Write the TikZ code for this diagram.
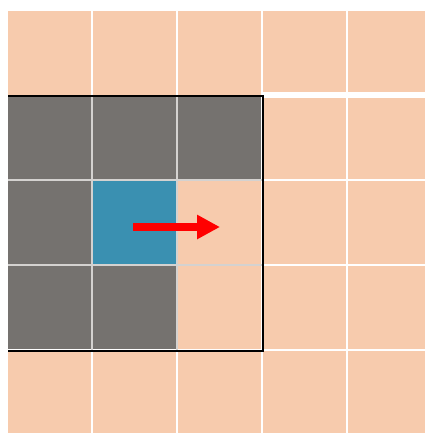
\documentclass[tikz,border=0pt]{standalone}
\usepackage{tikz}
\usetikzlibrary{arrows.meta}
\definecolor{peach}{HTML}{F7CBAD}
\definecolor{slate}{HTML}{75726F}
\definecolor{cellblue}{HTML}{3A90B1}
\definecolor{seam}{HTML}{D4D2D0}

\begin{document}
\begin{tikzpicture}[x=0.02cm, y=-0.02cm,
  cell/.style={minimum size=1.7cm, inner sep=0pt, outer sep=0pt, anchor=north west, fill=peach},
  gapline/.style={white, line width=1.2pt},
  seamline/.style={seam, line width=0.6pt}]
  \useasboundingbox (0,0) rectangle (425,433);
  \clip (0,0) rectangle (425,433);

  %% Cells: 5 x 5, pitch 85
  \foreach \r in {0,...,4} {
    \foreach \c in {0,...,4} {
      \node[cell] (c-\r-\c) at (8+85*\c, 11+85*\r) {};
    }
  }
  %% Covered cells
  \foreach \r/\c in {1/0, 1/1, 1/2, 2/0, 3/0, 3/1} {
    \fill[slate] (c-\r-\c.north west) rectangle (c-\r-\c.south east);
  }
  \fill[cellblue] (c-2-1.north west) rectangle (c-2-1.south east);

  %% White gaps between the free cells
  \foreach \x in {92,177} {
    \draw[gapline] (\x,0) -- (\x,95);
    \draw[gapline] (\x,350) -- (\x,433);
  }
  \foreach \x in {262,347} \draw[gapline] (\x,0) -- (\x,433);
  \foreach \y in {180,265} \draw[gapline] (262,\y) -- (425,\y);
  \draw[gapline] (0,350) -- (425,350);
  \draw[white, line width=3.2pt] (262,95) -- (425,95);

  %% Thin seams inside the window
  \foreach \x in {92,177} \draw[seamline] (\x,95) -- (\x,350);
  \foreach \y in {180,265} \draw[seamline] (8,\y) -- (262,\y);

  %% Window border
  \draw[line width=1.6pt] (c-1-0.north west) -- (c-1-2.north east)
    -- (c-3-2.south east) -- (c-3-0.south west);

  %% Move direction
  \coordinate (tip) at (220,227);
  \draw[red, line width=4.5pt, -{Triangle[length=0.46cm, width=0.46cm]}]
    (133,227) -- (tip);
\end{tikzpicture}
\end{document}
